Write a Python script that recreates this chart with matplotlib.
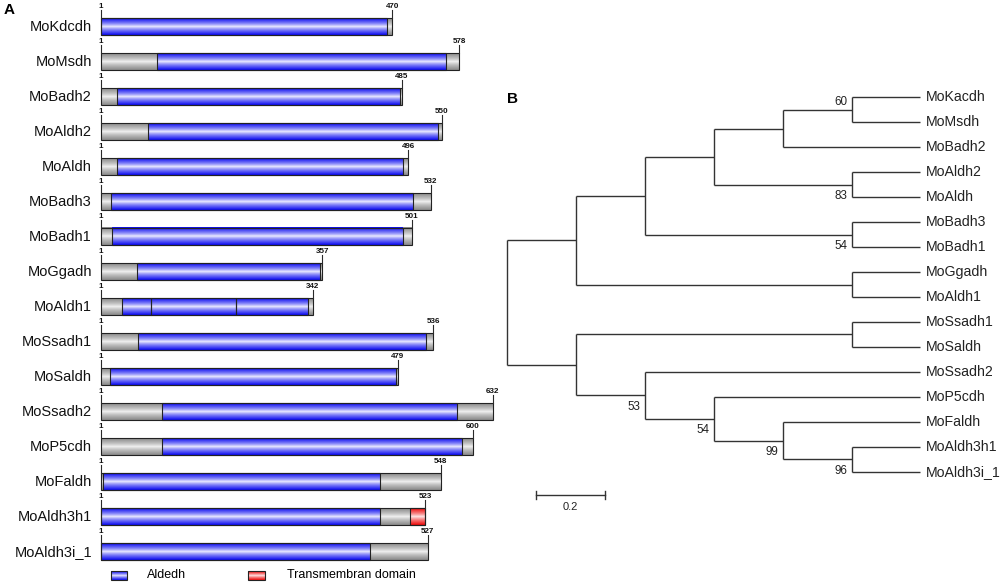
import numpy as np
import matplotlib
matplotlib.use('Agg')
import matplotlib.pyplot as plt
from matplotlib.colors import LinearSegmentedColormap
from matplotlib.patches import Rectangle

plt.rcParams['font.family'] = ['Liberation Sans', 'DejaVu Sans']

# ---- panel A data: protein lengths and domain positions (aa)
proteins = ['MoKdcdh', 'MoMsdh', 'MoBadh2', 'MoAldh2', 'MoAldh', 'MoBadh3',
            'MoBadh1', 'MoGgadh', 'MoAldh1', 'MoSsadh1', 'MoSaldh', 'MoSsadh2',
            'MoP5cdh', 'MoFaldh', 'MoAldh3h1', 'MoAldh3i_1']
lengths = [470, 578, 485, 550, 496, 532, 501, 357, 342, 536, 479, 632,
           600, 548, 523, 527]
aldedh = [[(1, 462)], [(91, 556)], [(26, 482)], [(77, 543)], [(27, 488)],
          [(17, 503)], [(19, 487)], [(59, 354)],
          [(35, 82), (82, 218), (218, 335)],
          [(61, 525)], [(15, 476)], [(100, 574)], [(100, 583)], [(5, 450)],
          [(1, 450)], [(1, 434)]]
transmem = {'MoAldh3h1': (499, 523)}

# ---- panel B data: tree (depth, bootstrap, children); leaves at depth 1.2
leaf_depth = 1.2
tree = (0.0, None, [
    (0.2, None, [
        (0.4, None, [
            (0.6, None, [
                (0.8, None, [(1.0, '60', ['MoKacdh', 'MoMsdh']), 'MoBadh2']),
                (1.0, '83', ['MoAldh2', 'MoAldh'])]),
            (1.0, '54', ['MoBadh3', 'MoBadh1'])]),
        (1.0, None, ['MoGgadh', 'MoAldh1'])]),
    (0.2, None, [
        (1.0, None, ['MoSsadh1', 'MoSaldh']),
        (0.4, '53', ['MoSsadh2',
                     (0.6, '54', ['MoP5cdh',
                                  (0.8, '99', ['MoFaldh',
                                               (1.0, '96', ['MoAldh3h1', 'MoAldh3i_1'])])])])])])
support_above = ['60']
scale_len = 0.2

W, H = 1000, 584
fig = plt.figure(figsize=(W / 100, H / 100), dpi=100)

# ---------------- panel A ----------------
axA = fig.add_axes([0, 0, 0.5, 1])
px = 0.621
row = 35.0
xA0 = 1 - 101 / px
xA1 = 1 + (500 - 101) / px
yA0 = -26.7 / row
yA1 = (H - 26.7) / row

def cmap2(edge, mid):
    return LinearSegmentedColormap.from_list('g', [mid, edge])

cm_gray = cmap2('#8a8a8a', '#f6f6f6')
cm_blue = cmap2('#0c0cf0', '#f4f4ff')
cm_red = cmap2('#ee0c0c', '#fff0f0')
prof = np.abs(np.linspace(-1, 1, 64)) ** 0.75
prof = prof.reshape(-1, 1)

bh = 17 / row

def seg(ax, x0, x1, yc, cm, h=bh):
    ax.imshow(prof, cmap=cm, extent=(x0, x1, yc + h / 2, yc - h / 2),
              aspect='auto', interpolation='bilinear', vmin=0, vmax=1, zorder=2)
    ax.add_patch(Rectangle((x0, yc - h / 2), x1 - x0, h, fill=False,
                           edgecolor='#222222', lw=0.8, zorder=3))

for i, name in enumerate(proteins):
    L = lengths[i]
    seg(axA, 1, L, i, cm_gray)
    for s, e in aldedh[i]:
        seg(axA, s, e, i, cm_blue)
    if name in transmem:
        s, e = transmem[name]
        seg(axA, s, e, i, cm_red)
    top = i - bh / 2
    for xx, lab in [(1, '1'), (L, str(L))]:
        axA.plot([xx, xx], [top, top - 8 / row], color='#2a2a2a', lw=0.8, zorder=3)
        axA.text(xx, top - 8.5 / row, lab, ha='center', va='bottom',
                 fontsize=5.8, fontweight='bold', color='#111111')
    axA.text(1 - 9 / px, i, name, ha='right', va='center', fontsize=10.5,
             color='#111111')

# legend
ly = (575.5 - 26.7) / row
lh = 9 / row
seg(axA, 1 + 10 / px, 1 + 25.7 / px, ly, cm_blue, h=lh)
axA.text(1 + 45.7 / px, ly, 'Aldedh', ha='left', va='center', fontsize=9)
seg(axA, 1 + 147 / px, 1 + 164 / px, ly, cm_red, h=lh)
axA.text(1 + 186 / px, ly, 'Transmembran domain', ha='left', va='center', fontsize=9)

axA.set_xlim(xA0, xA1)
axA.set_ylim(yA1, yA0)
axA.axis('off')

# ---------------- panel B ----------------
axB = fig.add_axes([0.49, 0, 0.51, 1])
ux = 344.8
ly0 = 97.3
lstep = 24.96
lc = '#333333'

leaves = []

def collect(node):
    if isinstance(node, str):
        leaves.append(node)
        return
    for c in node[2]:
        collect(c)

collect(tree)
leaf_y = {n: k for k, n in enumerate(leaves)}

def draw(node):
    if isinstance(node, str):
        return leaf_depth, leaf_y[node]
    d, sup, kids = node
    pos = [draw(c) for c in kids]
    ys = [p[1] for p in pos]
    for cx, cy in pos:
        axB.plot([d, cx], [cy, cy], color=lc, lw=1.0, solid_capstyle='butt')
    axB.plot([d, d], [min(ys), max(ys)], color=lc, lw=1.0, solid_capstyle='butt')
    yc = (min(ys) + max(ys)) / 2
    if sup is not None:
        off = -0.33 if sup in support_above else 0.46
        axB.text(d - 4 / ux, yc + off, sup, ha='right', va='center',
                 fontsize=8.4, color='#222222')
    return d, yc

draw(tree)
for n, k in leaf_y.items():
    axB.text(leaf_depth + 5 / ux, k, n, ha='left', va='center', fontsize=10.2,
             color='#222222')

# scale bar
sx = (535.7 - 506.7) / ux
sy = (495 - ly0) / lstep
axB.plot([sx, sx + scale_len], [sy, sy], color=lc, lw=1.0)
for xx in [sx, sx + scale_len]:
    axB.plot([xx, xx], [sy - 0.15, sy + 0.15], color=lc, lw=1.0)
axB.text(sx + scale_len / 2, sy + 0.47, '0.2', ha='center', va='center',
         fontsize=8, color='#222222')

axB.set_xlim((490 - 506.7) / ux, (1000 - 506.7) / ux)
axB.set_ylim((H - ly0) / lstep, -ly0 / lstep)
axB.axis('off')

fig.text(4 / W, 1 - 10 / H, 'A', ha='left', va='center', fontsize=11,
         fontweight='bold')
fig.text(507 / W, 1 - 99.3 / H, 'B', ha='left', va='center', fontsize=11,
         fontweight='bold')

fig.savefig('out.png', dpi=100)
